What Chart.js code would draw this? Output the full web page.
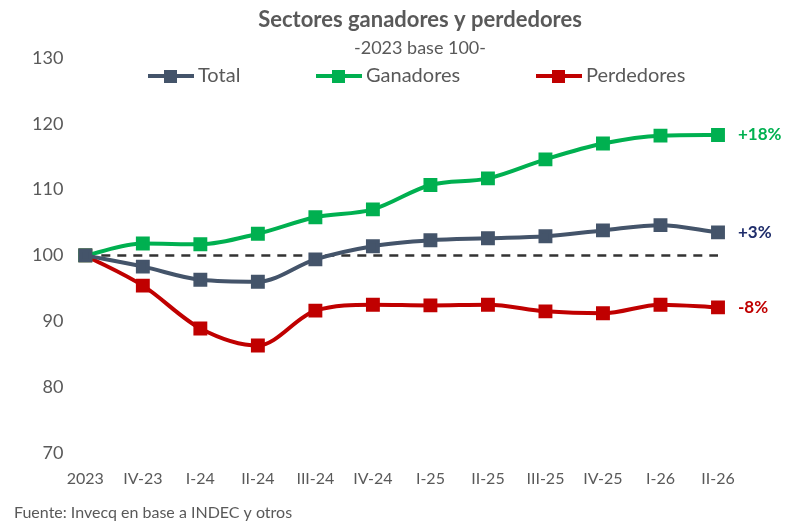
<!DOCTYPE html>
<html><head><meta charset="utf-8">
<script src="https://cdn.jsdelivr.net/npm/chart.js@4"></script>
<style>body{margin:0;background:#fff}#w{width:790px;height:526px;position:relative}</style>
</head><body><div id="w"><canvas id="c"></canvas></div>
<script>
const categories=["2023","IV-23","I-24","II-24","III-24","IV-24","I-25","II-25","III-25","IV-25","I-26","II-26"];
const total=[100,98.3,96.3,96.0,99.4,101.4,102.3,102.6,102.9,103.8,104.6,103.5];
const ganadores=[100,101.8,101.7,103.3,105.8,107.0,110.7,111.7,114.6,117.0,118.2,118.3];
const perdedores=[100,95.4,88.9,86.3,91.6,92.5,92.4,92.5,91.5,91.2,92.5,92.1];
const base=[100,100,100,100,100,100,100,100,100,100,100,100];
const endLabels=["+3%","+18%","-8%"];
const endColors=["#1F2D6B","#00B050","#C00000"];
const seriesColors=["#44546A","#00B050","#C00000"];
const seriesNames=["Total","Ganadores","Perdedores"];
const grey="#595959";
const endPlugin={id:"endLbl",afterDraw(ch){const ctx=ch.ctx;ctx.save();ctx.font="bold 17px Lato";ctx.textBaseline="middle";
[0,1,2].forEach(i=>{const m=ch.getDatasetMeta(i);const p=m.data[m.data.length-1];ctx.fillStyle=endColors[i];ctx.fillText(endLabels[i],p.x+20,p.y);});
ctx.fillStyle=grey;ctx.textAlign="center";ctx.font="bold 22px Lato";ctx.fillText("Sectores ganadores y perdedores",420,20);
ctx.font="18px Lato";ctx.fillText("-2023 base 100-",420,48);
ctx.textAlign="left";ctx.font="20px Lato";
const xs=[148,316,536];
xs.forEach((x,i)=>{ctx.strokeStyle=seriesColors[i];ctx.fillStyle=seriesColors[i];ctx.lineWidth=4;ctx.beginPath();ctx.moveTo(x,76);ctx.lineTo(x+46,76);ctx.stroke();ctx.fillRect(x+16,70,13,13);ctx.fillStyle=grey;ctx.fillText(seriesNames[i],x+50,76);});
ctx.font="16px Lato";ctx.fillText("Fuente: Invecq en base a INDEC y otros",14,513);ctx.restore();}};
const ds=(l,d,c)=>({label:l,data:d,borderColor:c,backgroundColor:c,borderWidth:4,pointStyle:"rect",pointRadius:7,pointHoverRadius:7,cubicInterpolationMode:"monotone"});
new Chart(document.getElementById("c"),{type:"line",data:{labels:categories,datasets:[
ds("Total",total,seriesColors[0]),ds("Ganadores",ganadores,seriesColors[1]),ds("Perdedores",perdedores,seriesColors[2]),
{label:"base",data:base,borderColor:"#333",borderWidth:2.5,borderDash:[9,7],pointRadius:0,fill:false}]},
options:{responsive:true,maintainAspectRatio:false,animation:false,
layout:{padding:{left:18,right:72,bottom:30,top:58}},
plugins:{legend:{display:false},tooltip:{enabled:false}},
scales:{x:{grid:{display:false},border:{display:false},ticks:{color:grey,font:{family:"Lato",size:16},padding:8}},
y:{min:70,max:130,grid:{display:false},border:{display:false},ticks:{stepSize:10,color:grey,font:{family:"Lato",size:18},padding:14}}}},
plugins:[endPlugin]});
</script></body></html>
